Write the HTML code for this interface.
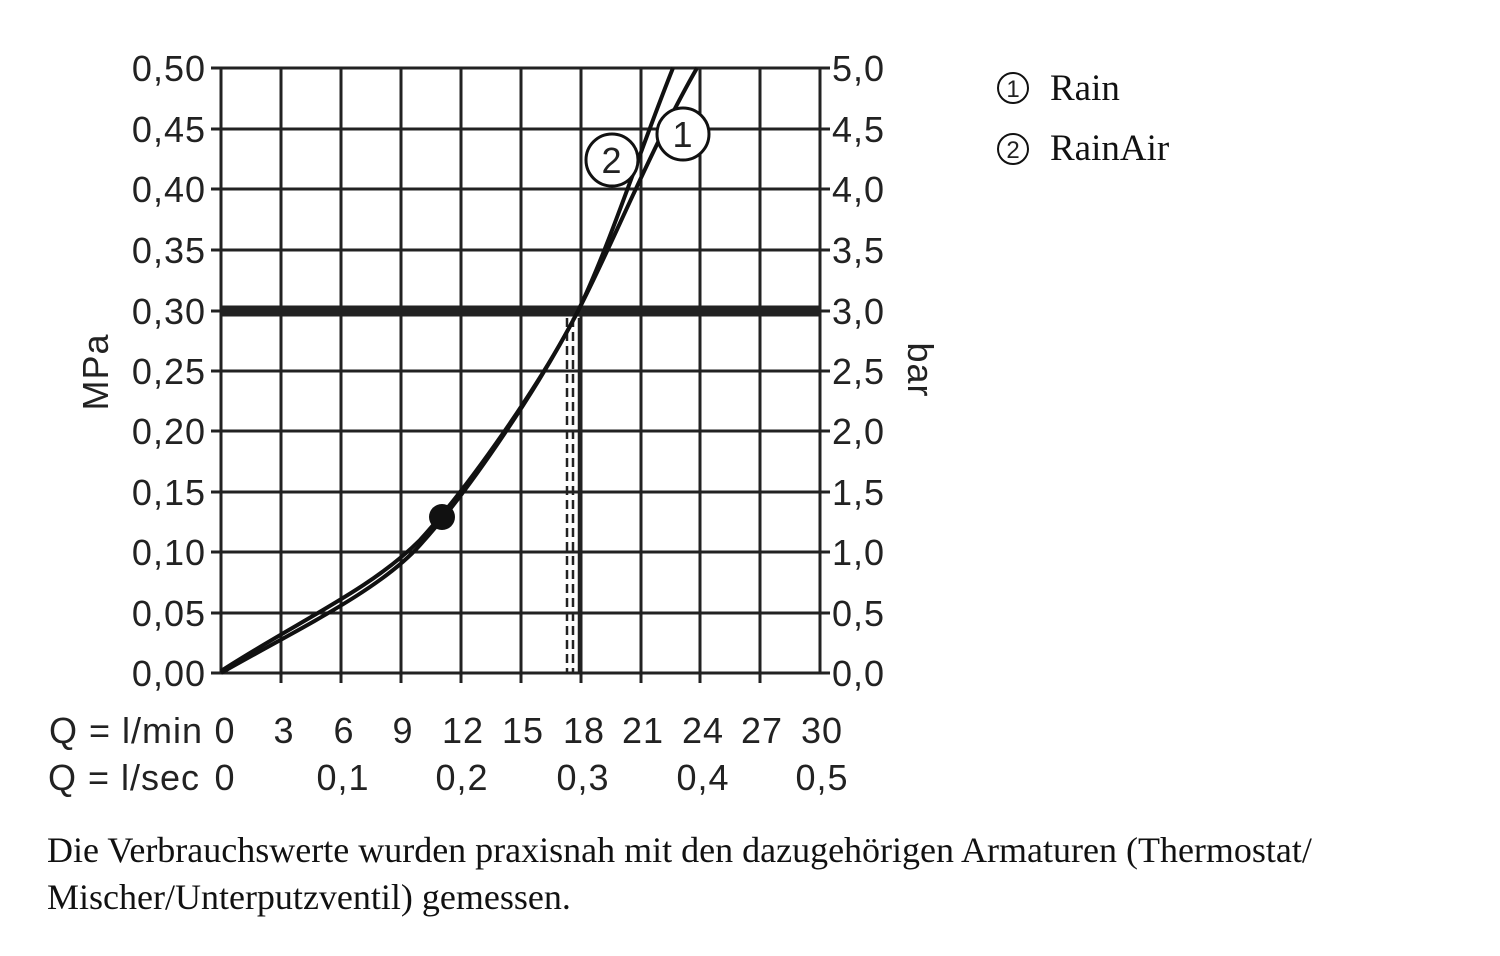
<!DOCTYPE html>
<html><head><meta charset="utf-8"><style>
html,body{margin:0;padding:0;background:#fff;}
svg{display:block}
.s{font-family:"Liberation Sans",sans-serif;font-size:36px;letter-spacing:1px;fill:#222}
.r{font-family:"Liberation Serif",serif;fill:#111}
</style></head><body>
<svg width="1500" height="956" viewBox="0 0 1500 956">
<g stroke="#222" stroke-width="3" fill="none">
<path d="M281 68V673M341 68V673M401 68V673M461 68V673M521 68V673M581 68V673M641 68V673M700 68V673M760 68V673"/>
<path d="M221 129H820M221 189H820M221 250H820M221 371H820M221 431H820M221 492H820M221 552H820M221 613H820"/>
<rect x="221" y="68" width="599" height="605"/>
<path d="M211 68H221M211 129H221M211 189H221M211 250H221M211 311H221M211 371H221M211 431H221M211 492H221M211 552H221M211 613H221M211 673H221"/>
<path d="M820 68H830M820 129H830M820 189H830M820 250H830M820 311H830M820 371H830M820 431H830M820 492H830M820 552H830M820 613H830M820 673H830"/>
<path d="M281 673V683M341 673V683M401 673V683M461 673V683M521 673V683M581 673V683M641 673V683M700 673V683M760 673V683"/>
</g>
<path d="M221 311H820" stroke="#222" stroke-width="11"/>
<path d="M567 318V673M573 318V673" stroke="#222" stroke-width="2.5" stroke-dasharray="9 5"/>
<path d="M579 318V673" stroke="#222" stroke-width="2.5"/>
<g stroke="#111" stroke-width="4" fill="none" stroke-linejoin="round">
<path d="M221 673 C300 628 380 590 420 545 C470 490 540 385 578 311 C610 250 650 150 697 68"/>
<path d="M221 671 C300 620 370 590 420 540 C470 485 540 385 578 311 C610 245 640 150 673 68"/>
</g>
<circle cx="442" cy="517" r="13" fill="#111"/>
<circle cx="683" cy="134" r="26" fill="#fff" stroke="#111" stroke-width="3"/>
<text x="683" y="147" text-anchor="middle" class="s">1</text>
<circle cx="612" cy="160" r="26" fill="#fff" stroke="#111" stroke-width="3"/>
<text x="612" y="173" text-anchor="middle" class="s">2</text>
<g class="s" text-anchor="end">
<text x="206" y="81">0,50</text><text x="206" y="142">0,45</text><text x="206" y="202">0,40</text>
<text x="206" y="263">0,35</text><text x="206" y="324">0,30</text><text x="206" y="384">0,25</text>
<text x="206" y="444">0,20</text><text x="206" y="505">0,15</text><text x="206" y="565">0,10</text>
<text x="206" y="626">0,05</text><text x="206" y="686">0,00</text>
</g>
<g class="s">
<text x="832" y="81">5,0</text><text x="832" y="142">4,5</text><text x="832" y="202">4,0</text>
<text x="832" y="263">3,5</text><text x="832" y="324">3,0</text><text x="832" y="384">2,5</text>
<text x="832" y="444">2,0</text><text x="832" y="505">1,5</text><text x="832" y="565">1,0</text>
<text x="832" y="626">0,5</text><text x="832" y="686">0,0</text>
</g>
<text class="s" transform="translate(108,372) rotate(-90)" text-anchor="middle">MPa</text>
<text class="s" transform="translate(908,370) rotate(90)" text-anchor="middle">bar</text>
<g class="s" text-anchor="middle">
<text x="126" y="743">Q = l/min</text>
<text x="225" y="743">0</text><text x="284" y="743">3</text><text x="344" y="743">6</text>
<text x="403" y="743">9</text><text x="463" y="743">12</text><text x="523" y="743">15</text>
<text x="584" y="743">18</text><text x="643" y="743">21</text><text x="703" y="743">24</text>
<text x="762" y="743">27</text><text x="822" y="743">30</text>
<text x="124" y="790">Q = l/sec</text>
<text x="225" y="790">0</text><text x="343" y="790">0,1</text><text x="462" y="790">0,2</text>
<text x="583" y="790">0,3</text><text x="703" y="790">0,4</text><text x="822" y="790">0,5</text>
</g>
<circle cx="1013" cy="88" r="15" fill="none" stroke="#111" stroke-width="2"/>
<text x="1013" y="97" text-anchor="middle" class="s" font-size="24" style="font-size:24px;letter-spacing:0">1</text>
<text x="1050" y="100" class="r" font-size="37">Rain</text>
<circle cx="1013" cy="149" r="15" fill="none" stroke="#111" stroke-width="2"/>
<text x="1013" y="158" text-anchor="middle" class="s" style="font-size:24px;letter-spacing:0">2</text>
<text x="1050" y="160" class="r" font-size="37">RainAir</text>
<text x="47" y="862" class="r" font-size="36">Die Verbrauchswerte wurden praxisnah mit den dazugehörigen Armaturen (Thermostat/</text>
<text x="47" y="909" class="r" font-size="36">Mischer/Unterputzventil) gemessen.</text>
</svg>
</body></html>
